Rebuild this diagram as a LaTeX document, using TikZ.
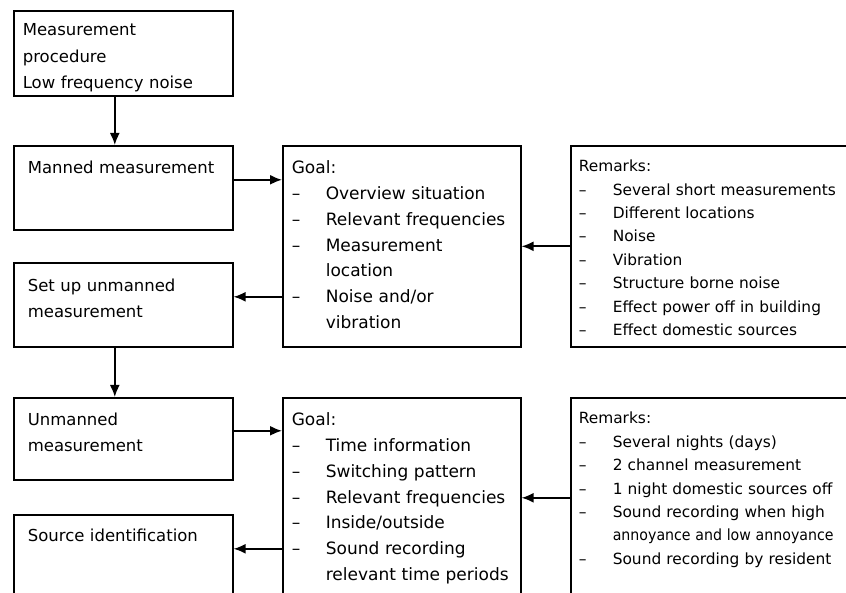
\documentclass[tikz,border=0pt]{standalone}
\usepackage{fontspec}
\usepackage{graphicx}
\setmainfont{DejaVu Sans}
\usetikzlibrary{arrows.meta}

\newcommand\dash{\makebox[34pt][l]{--}}
\newcommand\cont{\hspace*{34pt}}

\begin{document}
\begin{tikzpicture}[x=1pt, y=-1pt, line width=1.6pt,
    box/.style={draw, anchor=north west, align=left, inner ysep=0pt},
    stepbox/.style={box, inner xsep=14pt, text width=191pt, font=\fontsize{16.5}{25.5}\selectfont},
    goalbox/.style={box, inner xsep=9pt, text width=220pt, font=\fontsize{17}{25.8}\selectfont},
    remarkbox/.style={box, inner xsep=8pt, text width=294pt, font=\fontsize{15.4}{23.4}\selectfont},
    arr/.style={-{Latex[length=12pt,width=10pt]}, line width=1.8pt}]

    \useasboundingbox (0,0) rectangle (846,593);
    \clip (0,0) rectangle (846,593);

    % left column
    \node[stepbox, inner xsep=9pt, text width=201pt, text height=25pt, text depth=60pt,
          font=\fontsize{16.5}{26.5}\selectfont] (proc) at (13,10)
        {Measurement\\procedure\\Low frequency noise};
    \node[stepbox, text height=28pt, text depth=56pt] (manned) at (13,145) {Manned measurement};
    \node[stepbox, text height=29pt, text depth=55pt] (setup) at (13,262) {Set up unmanned\\measurement};
    \node[stepbox, text height=28pt, text depth=54pt] (unmanned) at (13,397) {Unmanned\\measurement};
    \node[stepbox, text height=27pt, text depth=79pt] (source) at (13,514) {Source identification};

    % goals
    \node[goalbox, text height=28pt, text depth=173pt] (goal1) at (282,145)
        {Goal:\\
         \dash Overview situation\\
         \dash Relevant frequencies\\
         \dash Measurement\\
         \cont location\\
         \dash Noise and/or\\
         \cont vibration};
    \node[goalbox, text height=28pt, text depth=195pt] (goal2) at (282,397)
        {Goal:\\
         \dash Time information\\
         \dash Switching pattern\\
         \dash Relevant frequencies\\
         \dash Inside/outside\\
         \dash Sound recording\\
         \cont relevant time periods};

    % remarks
    \node[remarkbox, text height=26pt, text depth=175pt] (rem1) at (570,145)
        {Remarks:\\
         \dash Several short measurements\\
         \dash Different locations\\
         \dash Noise\\
         \dash Vibration\\
         \dash Structure borne noise\\
         \dash Effect power off in building\\
         \dash Effect domestic sources};
    \node[remarkbox, text height=26pt, text depth=197pt] (rem2) at (570,397)
        {Remarks:\\
         \dash Several nights (days)\\
         \dash 2 channel measurement\\
         \dash 1 night domestic sources off\\
         \dash Sound recording when high\\
         \cont \scalebox{0.92}[1]{annoyance and low annoyance}\\
         \dash Sound recording by resident};

    % connections
    \draw[arr] ([xshift=-8.5pt]proc.south) -- ([xshift=-8.5pt]manned.north);
    \draw[arr] ([yshift=8pt]manned.east) -- ([yshift=8pt]manned.east -| goal1.west);
    \draw[arr] (rem1.west) -- (goal1.east);
    \draw[arr] ([yshift=8pt]setup.east -| goal1.west) -- ([yshift=8pt]setup.east);
    \draw[arr] ([xshift=-8.5pt]setup.south) -- ([xshift=-8.5pt]unmanned.north);
    \draw[arr] ([yshift=8pt]unmanned.east) -- ([yshift=8pt]unmanned.east -| goal2.west);
    \draw[arr] ([yshift=11.5pt]rem2.west) -- ([yshift=11.5pt]rem2.west -| goal2.east);
    \draw[arr] ([yshift=19pt]source.east -| goal2.west) -- ([yshift=19pt]source.east);

\end{tikzpicture}
\end{document}
